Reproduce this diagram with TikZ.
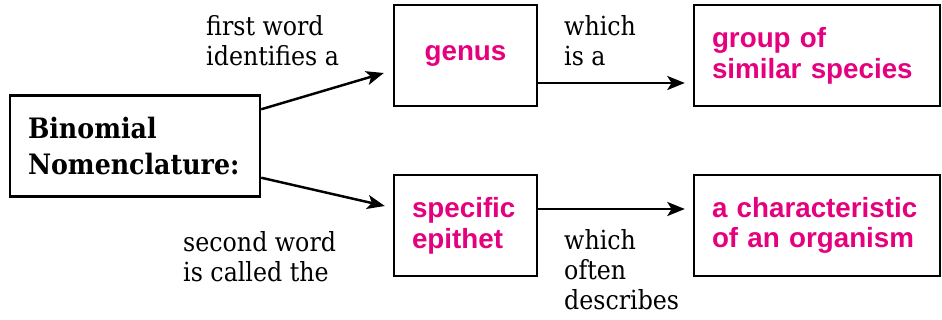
\documentclass[tikz,border=0pt]{standalone}
\usepackage{fontspec}
\setmainfont{DejaVu Serif Condensed}
\newfontfamily\termfont{Liberation Sans}
\usetikzlibrary{arrows.meta}
\definecolor{termpink}{HTML}{E5007D}
\begin{document}
\begin{tikzpicture}[x=0.02cm, y=-0.02cm, line width=1.4pt,
  box/.style={draw, line width=1.4pt, minimum height=2.02cm, inner xsep=0.36cm, inner ysep=0pt},
  term/.style={box, font=\termfont\bfseries\fontsize{15.8}{17.5}\selectfont, text=termpink, align=left},
  note/.style={inner sep=0pt, align=left, anchor=west, font=\fontsize{15}{17}\selectfont},
  link/.style={-{Stealth[length=10pt, width=8pt, inset=2.5pt]}}]
  \useasboundingbox (0,0) rectangle (942,320);
  % boxes
  \node[box, minimum width=5cm, text width=4.28cm, align=left,
        font=\bfseries\fontsize{16}{20}\selectfont] (bin) at (135,146) {Binomial\\Nomenclature:};
  \node[term, minimum width=2.86cm, align=center] (genus) at (465.5,55.5) {genus};
  \node[term, text width=2.14cm] (epithet) at (465.5,225.5) {specific\\epithet};
  \node[term, text width=4.2cm] (group) at (817,55.5) {group of\\similar species};
  \node[term, text width=4.2cm] (trait) at (817,225.5) {a characteristic\\of an organism};
  % connectors
  \draw[link] ([yshift=-0.3cm]bin.north east) -- ([xshift=-0.18cm, yshift=-0.35cm]genus.west);
  \draw[link] ([yshift=0.4cm]bin.south east) -- ([xshift=-0.16cm, yshift=0.39cm]epithet.west);
  \draw[link] ([yshift=-0.55cm]genus.east) -- ([xshift=-0.16cm, yshift=-0.55cm]group.west);
  \draw[link] ([yshift=0.33cm]epithet.east) -- ([xshift=-0.16cm, yshift=0.33cm]trait.west);
  % labels
  \node[note] (firstlbl) at (205,41) {first word\\identifies a};
  \node[note] (secondlbl) at (182,257) {second word\\is called the};
  \node[note] (isalbl) at (563,41) {which\\is a};
  \node[note] (describeslbl) at (563,270) {which\\often\\describes};
\end{tikzpicture}
\end{document}
